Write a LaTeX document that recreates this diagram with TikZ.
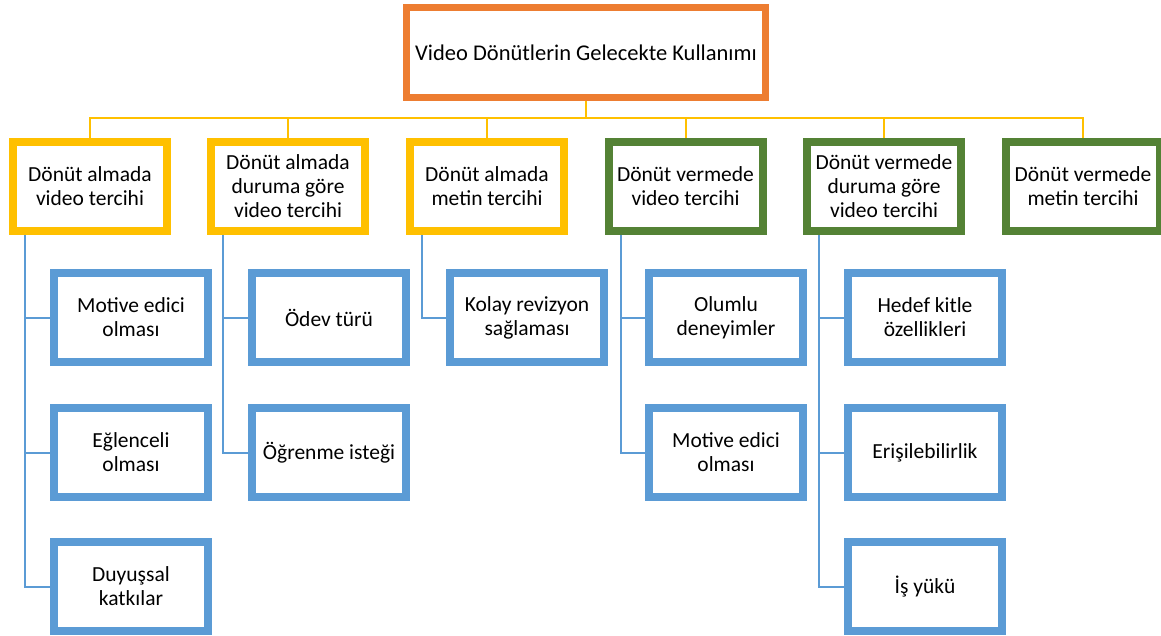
\documentclass[tikz,border=0pt]{standalone}
\usepackage{fontspec}
\setmainfont{Carlito}
\usetikzlibrary{calc,backgrounds}
\definecolor{orng}{HTML}{ED7D31}
\definecolor{yel}{HTML}{FFC000}
\definecolor{grn}{HTML}{548235}
\definecolor{blu}{HTML}{5B9BD5}
\tikzset{
  box/.style={draw, fill=white, line width=8pt, minimum width=154pt, minimum height=89pt,
    inner sep=0pt, align=center, text=black, font=\fontsize{21.5}{24}\selectfont},
  topbox/.style={box, draw=orng, line width=7pt, minimum width=359pt, minimum height=90pt,
    font=\fontsize{22.5}{25}\selectfont},
  ybox/.style={box, draw=yel},
  gbox/.style={box, draw=grn},
  bbox/.style={box, draw=blu},
  yline/.style={draw=yel, line width=2pt},
  bline/.style={draw=blu, line width=2pt},
}
\begin{document}
\begin{tikzpicture}[x=1pt,y=-1pt]
\useasboundingbox (0,0) rectangle (1161,635);
\node[topbox] (top) at (586,52.5) {Video Dönütlerin Gelecekte Kullanımı};
\coordinate (bus) at (586,118);
% level 1
\node[ybox] (a) at (90,186) {Dönüt almada\\video tercihi};
\node[ybox] (b) at (288,186) {Dönüt almada\\duruma göre\\video tercihi};
\node[ybox] (c) at (487,186) {Dönüt almada\\metin tercihi};
\node[gbox] (d) at (685.5,186) {Dönüt vermede\\video tercihi};
\node[gbox] (e) at (884,186) {Dönüt vermede\\duruma göre\\video tercihi};
\node[gbox] (f) at (1083,186) {Dönüt vermede\\metin tercihi};
% level 2
\node[bbox] (a1) at (131,317.5) {Motive edici\\olması};
\node[bbox] (a2) at (131,452.5) {Eğlenceli\\olması};
\node[bbox] (a3) at (131,586.5) {Duyuşsal\\katkılar};
\node[bbox] (b1) at (329,317.5) {Ödev türü};
\node[bbox] (b2) at (329,452.5) {Öğrenme isteği};
\node[bbox] (c1) at (527,317.5) {Kolay revizyon\\sağlaması};
\node[bbox] (d1) at (726,317.5) {Olumlu\\deneyimler};
\node[bbox] (d2) at (726,452.5) {Motive edici\\olması};
\node[bbox] (e1) at (925,317.5) {Hedef kitle\\özellikleri};
\node[bbox] (e2) at (925,452.5) {Erişilebilirlik};
\node[bbox] (e3) at (925,586.5) {İş yükü};
\begin{scope}[on background layer]
  \draw[yline] (top.south) -- (bus);
  \foreach \n in {a,b,c,d,e,f} {
    \draw[yline] (bus) -| (\n.north);
  }
  \foreach \p/\c in {a/a1,a/a2,a/a3,b/b1,b/b2,c/c1,d/d1,d/d2,e/e1,e/e2,e/e3} {
    \draw[bline] ($(\p.south west)+(16,0)$) |- (\c.west);
  }
\end{scope}
\end{tikzpicture}
\end{document}
